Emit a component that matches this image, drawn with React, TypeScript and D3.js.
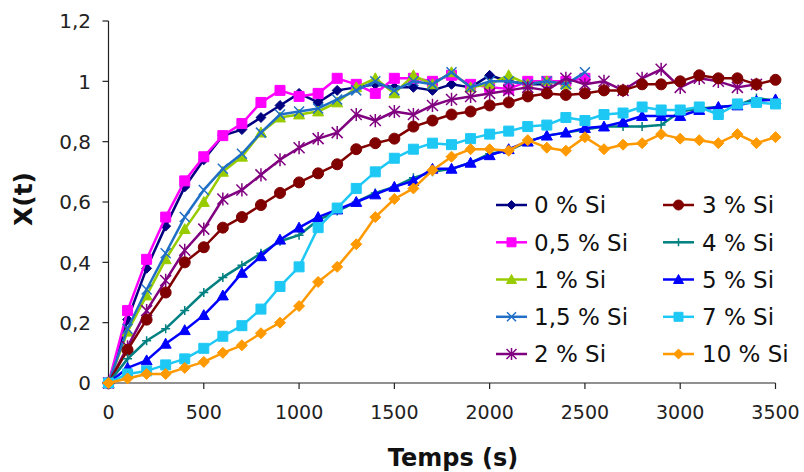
import React from "react";
import * as d3 from "d3";

const times = [0, 100, 200, 300, 400, 500, 600, 700, 800, 900, 1000, 1100, 1200, 1300, 1400, 1500, 1600, 1700, 1800, 1900, 2000, 2100, 2200, 2300, 2400, 2500, 2600, 2700, 2800, 2900, 3000, 3100, 3200, 3300, 3400, 3500];

const seriesNames = ["0 % Si", "0,5 % Si", "1 % Si", "1,5 % Si", "2 % Si", "3 % Si", "4 % Si", "5 % Si", "7 % Si", "10 % Si"];

const si0 = [0, 0.21, 0.38, 0.52, 0.65, 0.74, 0.82, 0.84, 0.88, 0.92, 0.96, 0.93, 0.97, 0.98, 0.99, 0.98, 0.98, 0.97, 0.99, 0.98, 1.02, 1.0, 0.99, 0.99];
const si05 = [0, 0.24, 0.41, 0.55, 0.67, 0.75, 0.82, 0.86, 0.93, 0.97, 0.95, 0.96, 1.01, 0.99, 0.96, 1.01, 1.01, 1.0, 1.02, 0.99, 0.98, 0.975, 1.0, 1.0, 1.0, 1.01];
const si1 = [0, 0.17, 0.29, 0.41, 0.51, 0.6, 0.7, 0.75, 0.83, 0.88, 0.89, 0.9, 0.93, 0.98, 1.01, 0.96, 1.02, 0.99, 1.03, 0.98, 0.99, 1.02, 0.99, 1.0, 0.99];
const si15 = [0, 0.18, 0.31, 0.43, 0.55, 0.64, 0.71, 0.76, 0.83, 0.89, 0.9, 0.91, 0.94, 0.97, 1.0, 0.97, 1.0, 0.99, 1.03, 0.98, 1.0, 1.0, 0.99, 1.0, 0.99, 1.03];
const si2 = [0, 0.12, 0.24, 0.34, 0.44, 0.51, 0.61, 0.64, 0.69, 0.74, 0.78, 0.81, 0.83, 0.89, 0.87, 0.9, 0.89, 0.92, 0.94, 0.95, 0.96, 0.97, 0.98, 0.97, 1.01, 0.99, 1.0, 0.97, 1.01, 1.04, 0.98, 1.01, 1.0, 0.98, 0.99];
const si3 = [0, 0.11, 0.21, 0.3, 0.4, 0.45, 0.515, 0.55, 0.59, 0.63, 0.665, 0.695, 0.725, 0.775, 0.795, 0.81, 0.85, 0.87, 0.89, 0.9, 0.92, 0.93, 0.95, 0.96, 0.955, 0.96, 0.97, 0.97, 0.99, 0.99, 1.0, 1.02, 1.01, 1.01, 0.99, 1.005];
const si4 = [0, 0.08, 0.14, 0.18, 0.24, 0.3, 0.35, 0.39, 0.43, 0.47, 0.49, 0.54, 0.57, 0.6, 0.63, 0.65, 0.68, 0.7, 0.71, 0.73, 0.76, 0.77, 0.8, 0.82, 0.83, 0.84, 0.85, 0.85, 0.85, 0.855, 0.9, 0.91, 0.915, 0.92, 0.945, 0.935];
const si5 = [0, 0.05, 0.075, 0.13, 0.175, 0.225, 0.29, 0.365, 0.42, 0.475, 0.515, 0.55, 0.575, 0.6, 0.625, 0.65, 0.67, 0.71, 0.71, 0.73, 0.755, 0.775, 0.8, 0.82, 0.83, 0.845, 0.85, 0.865, 0.885, 0.885, 0.885, 0.905, 0.915, 0.92, 0.935, 0.94];
const si7 = [0, 0.03, 0.04, 0.06, 0.08, 0.115, 0.155, 0.19, 0.245, 0.32, 0.385, 0.515, 0.58, 0.645, 0.7, 0.745, 0.775, 0.795, 0.79, 0.81, 0.825, 0.835, 0.85, 0.855, 0.88, 0.87, 0.89, 0.895, 0.915, 0.905, 0.905, 0.915, 0.89, 0.925, 0.93, 0.925];
const si10 = [0, 0.015, 0.03, 0.03, 0.05, 0.07, 0.1, 0.125, 0.165, 0.2, 0.255, 0.335, 0.385, 0.46, 0.55, 0.61, 0.645, 0.705, 0.75, 0.775, 0.775, 0.77, 0.805, 0.78, 0.77, 0.815, 0.775, 0.79, 0.795, 0.825, 0.81, 0.805, 0.795, 0.825, 0.795, 0.815];

const seriesValues = [si0, si05, si1, si15, si2, si3, si4, si5, si7, si10];
const seriesColors = ["#000080", "#ff00ff", "#99cc00", "#1f6fc6", "#800080", "#800000", "#008080", "#0000ff", "#1ec8f5", "#ff9900"];
const seriesMarkers = ["diamond", "square", "triangle", "x", "star", "circle", "plus", "triangle", "square", "diamond"];
const markerSizes = [9, 10, 11, 10, 11, 11, 9, 11, 10, 10];

const xTicks = [0, 500, 1000, 1500, 2000, 2500, 3000, 3500];
const yTicks = [0, 0.2, 0.4, 0.6, 0.8, 1.0, 1.2];

const FONT = "'DejaVu Sans', Verdana, sans-serif";

function markerPath(kind: string, s: number): string {
  const h = s / 2;
  const p = d3.path();
  if (kind === "diamond") {
    p.moveTo(0, -h * 1.1); p.lineTo(h * 1.1, 0); p.lineTo(0, h * 1.1); p.lineTo(-h * 1.1, 0); p.closePath();
  } else if (kind === "square") {
    p.rect(-h, -h, s, s);
  } else if (kind === "triangle") {
    p.moveTo(0, -h); p.lineTo(h, h * 0.8); p.lineTo(-h, h * 0.8); p.closePath();
  } else if (kind === "circle") {
    p.arc(0, 0, h, 0, Math.PI * 2);
  } else if (kind === "x") {
    p.moveTo(-h, -h); p.lineTo(h, h); p.moveTo(-h, h); p.lineTo(h, -h);
  } else if (kind === "star") {
    p.moveTo(-h, -h); p.lineTo(h, h); p.moveTo(-h, h); p.lineTo(h, -h); p.moveTo(0, -h * 1.2); p.lineTo(0, h * 1.2);
  } else if (kind === "plus") {
    p.moveTo(-h, 0); p.lineTo(h, 0); p.moveTo(0, -h); p.lineTo(0, h);
  }
  return p.toString();
}

function Marker({ kind, size, color, x, y }: { kind: string; size: number; color: string; x: number; y: number }) {
  const stroked = kind === "x" || kind === "star" || kind === "plus";
  return (
    <path
      d={markerPath(kind, size)}
      transform={`translate(${x},${y})`}
      fill={stroked ? "none" : color}
      stroke={color}
      strokeWidth={stroked ? 1.5 : 1}
    />
  );
}

export default function App() {
  const width = 804;
  const height = 472;
  const x = d3.scaleLinear().domain([0, 3500]).range([108.5, 775.5]);
  const y = d3.scaleLinear().domain([0, 1.2]).range([383, 21]);
  const fmt = (v: number) => (Math.round(v * 10) / 10).toString().replace(".", ",");

  const line = d3.line<number>().x((_, i) => x(times[i])).y((d) => y(d));

  const legendRows = [205, 242.3, 279.5, 316.8, 354];
  const legendCols = [{ lx: 496, tx: 534 }, { lx: 663, tx: 702 }];

  return (
    <svg width={width} height={height} style={{ position: "absolute", left: 0, top: 0, background: "#fff" }} fontFamily={FONT}>
      <rect x={0} y={0} width={width} height={height} fill="#fff" />
      {/* axes */}
      <line x1={x(0)} x2={x(0)} y1={y(1.2)} y2={y(0)} stroke="#222" strokeWidth={1.2} />
      <line x1={x(0)} x2={x(3500)} y1={y(0)} y2={y(0)} stroke="#222" strokeWidth={1.2} />
      {yTicks.map((t) => (
        <g key={"y" + t}>
          <line x1={x(0) - 6} x2={x(0)} y1={y(t)} y2={y(t)} stroke="#222" strokeWidth={1.2} />
          <text x={91} y={y(t)} dy="0.36em" textAnchor="end" fontSize={20} fill="#222">{fmt(t)}</text>
        </g>
      ))}
      {xTicks.map((t) => (
        <g key={"x" + t}>
          <line x1={x(t)} x2={x(t)} y1={y(0)} y2={y(0) + 6} stroke="#222" strokeWidth={1.2} />
          <text x={x(t)} y={412} dy="0.36em" textAnchor="middle" fontSize={19} fill="#222">{t}</text>
        </g>
      ))}
      <text transform="translate(32,199) rotate(-90)" textAnchor="middle" fontSize={25} fontWeight="bold" fill="#111">X(t)</text>
      <text x={453} y={466} textAnchor="middle" fontSize={24} fontWeight="bold" fill="#111">Temps (s)</text>

      {/* series */}
      {seriesValues.map((vals, si) => (
        <g key={"s" + si}>
          <path d={line(vals) || ""} fill="none" stroke={seriesColors[si]} strokeWidth={2.5} strokeLinejoin="round" />
          {vals.map((v, i) => (
            <Marker key={i} kind={seriesMarkers[si]} size={markerSizes[si]} color={seriesColors[si]} x={x(times[i])} y={y(v)} />
          ))}
        </g>
      ))}

      {/* legend */}
      {seriesNames.map((name, i) => {
        const col = legendCols[i < 5 ? 0 : 1];
        const ry = legendRows[i % 5];
        return (
          <g key={"l" + i}>
            <line x1={col.lx} x2={col.lx + 31} y1={ry} y2={ry} stroke={seriesColors[i]} strokeWidth={2.5} />
            <Marker kind={seriesMarkers[i]} size={markerSizes[i] - 1} color={seriesColors[i]} x={col.lx + 15.5} y={ry} />
            <text x={col.tx} y={ry} dy="0.36em" fontSize={23} fill="#111">{name}</text>
          </g>
        );
      })}
    </svg>
  );
}
